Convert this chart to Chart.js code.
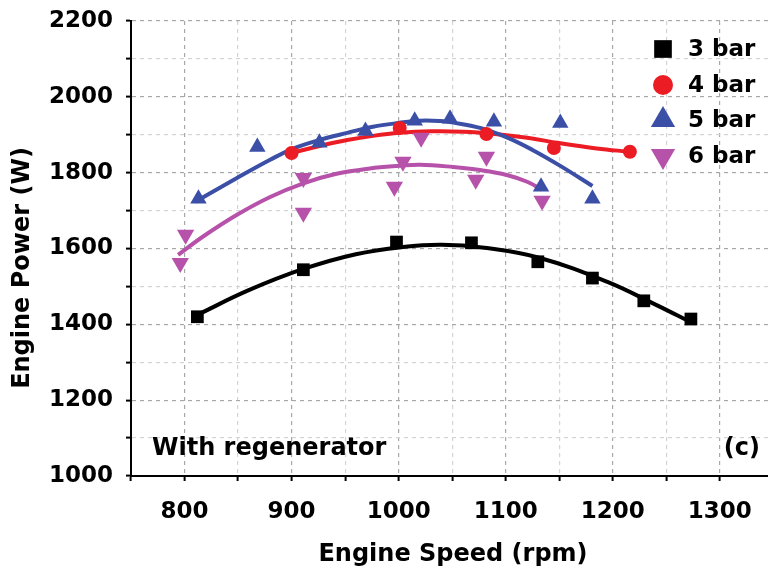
<!DOCTYPE html>
<html>
<head>
<meta charset="utf-8">
<script src="https://cdn.jsdelivr.net/npm/chart.js@4.4.1/dist/chart.umd.min.js"></script>
<style>
  html, body { margin: 0; padding: 0; background: #fff; }
  canvas { display: block; }
</style>
</head>
<body>
<canvas id="powerChart" width="768" height="577"></canvas>
<script>
// measured points (rpm, W)
const speed3 = [812, 911, 998, 1068, 1130, 1181, 1229, 1273];
const power3 = [1420, 1544, 1617, 1615, 1565, 1522, 1462, 1414];
const speed4 = [900, 1001, 1082, 1145, 1216];
const power4 = [1852, 1918, 1902, 1865, 1855];
const speed5 = [813, 868, 926, 969, 1015, 1048, 1089, 1151, 1133, 1181];
const power5 = [1731, 1868, 1879, 1910, 1937, 1942, 1934, 1931, 1763, 1731];
const speed6 = [796, 801, 911, 911, 996, 1004, 1021, 1082, 1072, 1134];
const power6 = [1562, 1636, 1786, 1694, 1763, 1829, 1892, 1842, 1781, 1726];

// fitted curves
const fit3Speed = [812, 860, 911, 960, 1004, 1040, 1080, 1132, 1195, 1240, 1274];
const fit3Power = [1425, 1490, 1546, 1585, 1604, 1610, 1602, 1575, 1512, 1452, 1404];
const fit4Speed = [900, 927, 952, 976, 1001, 1030, 1060, 1090, 1120, 1150, 1185, 1216];
const fit4Power = [1852, 1871, 1886, 1897, 1905, 1909, 1908, 1902, 1892, 1878, 1864, 1855];
const fit5Speed = [810, 849, 880, 901, 927, 952, 976, 1000, 1020, 1039, 1051, 1076, 1101, 1125, 1151, 1181];
const fit5Power = [1723, 1786, 1834, 1863, 1887, 1905, 1921, 1931, 1937, 1936, 1932, 1918, 1893, 1860, 1818, 1765];
const fit6Speed = [794, 817, 849, 880, 911, 942, 973, 1001, 1020, 1051, 1076, 1101, 1120, 1134];
const fit6Power = [1583, 1631, 1689, 1736, 1772, 1797, 1811, 1818, 1821, 1815, 1807, 1794, 1776, 1755];

const seriesLabels = ['3 bar', '4 bar', '5 bar', '6 bar'];
const xTicks = [750, 800, 850, 900, 950, 1000, 1050, 1100, 1150, 1200, 1250, 1300];
const yTicks = [1000, 1100, 1200, 1300, 1400, 1500, 1600, 1700, 1800, 1900, 2000, 2100, 2200];

const colors = ['#000000', '#ec1c24', '#3b4fa6', '#b652a9'];
const FONT = '"DejaVu Sans", sans-serif';

const pts = (xs, ys) => xs.map((x, i) => ({ x: x, y: ys[i] }));

const markerStyles = [
    { pointStyle: 'rect', radius: 9, rotation: 0 },
    { pointStyle: 'circle', radius: 7, rotation: 0 },
    { pointStyle: 'triangle', radius: 9.5, rotation: 0 },
    { pointStyle: 'triangle', radius: 10, rotation: 180 }
];

function markerSet(i, data) {
    return {
        label: seriesLabels[i],
        data: data,
        showLine: false,
        backgroundColor: colors[i],
        borderColor: colors[i],
        borderWidth: 0,
        pointStyle: markerStyles[i].pointStyle,
        pointRadius: markerStyles[i].radius,
        pointRotation: markerStyles[i].rotation,
        order: i
    };
}

function fitSet(i, data, order) {
    return {
        label: seriesLabels[i] + ' fit',
        data: data,
        showLine: true,
        borderColor: colors[i],
        borderWidth: 4,
        pointRadius: 0,
        tension: 0.4,
        fill: false,
        order: order
    };
}

// legend + annotations + axis titles
const decorPlugin = {
    id: 'decor',
    afterDraw(chart) {
        const ctx = chart.ctx;
        ctx.save();
        ctx.fillStyle = '#000';
        ctx.font = 'bold 24px ' + FONT;
        ctx.textBaseline = 'alphabetic';
        ctx.textAlign = 'left';
        ctx.fillText('With regenerator', 152, 455);
        ctx.textAlign = 'right';
        ctx.fillText('(c)', 760, 455);

        ctx.textAlign = 'center';
        ctx.textBaseline = 'middle';
        ctx.fillText('Engine Speed (rpm)', 453, 555);
        ctx.save();
        ctx.translate(23, 268);
        ctx.rotate(-Math.PI / 2);
        ctx.fillText('Engine Power (W)', 0, 0);
        ctx.restore();

        // legend
        const rowsY = [49, 85, 120, 156];
        const legendSize = [12.5, 10, 14, 14];
        ctx.font = 'bold 23px ' + FONT;
        ctx.textAlign = 'left';
        seriesLabels.forEach((lab, i) => {
            ctx.fillStyle = colors[i];
            ctx.strokeStyle = colors[i];
            Chart.helpers.drawPoint(ctx, {
                pointStyle: markerStyles[i].pointStyle,
                rotation: markerStyles[i].rotation,
                radius: legendSize[i],
                borderWidth: 0
            }, 663, rowsY[i]);
            ctx.fillStyle = '#000';
            ctx.fillText(lab, 688, rowsY[i] + 1);
        });
        ctx.restore();
    }
};

function gridColor(major) {
    return (c) => {
        if (!c.tick) return 'rgba(0,0,0,0)';
        return c.tick.value % major === 0 ? '#a8a8a8' : '#d4d4d4';
    };
}

function noPad(s) {
    s.paddingLeft = 0;
    s.paddingRight = 0;
    s.paddingTop = 0;
    s.paddingBottom = 0;
}

new Chart(document.getElementById('powerChart'), {
    type: 'scatter',
    data: {
        datasets: [
            markerSet(0, pts(speed3, power3)),
            markerSet(1, pts(speed4, power4)),
            markerSet(2, pts(speed5, power5)),
            markerSet(3, pts(speed6, power6)),
            fitSet(0, pts(fit3Speed, fit3Power), 10),
            fitSet(2, pts(fit5Speed, fit5Power), 11),
            fitSet(1, pts(fit4Speed, fit4Power), 12),
            fitSet(3, pts(fit6Speed, fit6Power), 13)
        ]
    },
    options: {
        responsive: false,
        animation: false,
        layout: { autoPadding: false, padding: { top: 21, right: 0, left: 0, bottom: 0 } },
        plugins: {
            legend: { display: false },
            tooltip: { enabled: false }
        },
        scales: {
            x: {
                type: 'linear',
                min: 750,
                max: 1345,
                afterBuildTicks: (s) => { s.ticks = xTicks.map(v => ({ value: v })); },
                afterFit: (s) => { s.height = 101; noPad(s); },
                ticks: {
                    autoSkip: false,
                    maxRotation: 0,
                    padding: 17,
                    color: '#000',
                    font: { family: FONT, size: 23, weight: 'bold' },
                    callback: (v) => (v % 100 === 0 ? String(v) : '')
                },
                grid: {
                    color: gridColor(100),
                    lineWidth: 1.2,
                    tickColor: '#000',
                    tickLength: 5,
                    tickWidth: 2
                },
                border: { display: true, color: '#000', width: 2, dash: [4, 4] }
            },
            y: {
                type: 'linear',
                min: 1000,
                max: 2200,
                afterBuildTicks: (s) => { s.ticks = yTicks.map(v => ({ value: v })); },
                afterFit: (s) => { s.width = 131; noPad(s); },
                ticks: {
                    autoSkip: false,
                    padding: 13,
                    color: '#000',
                    font: { family: FONT, size: 23, weight: 'bold' },
                    callback: (v) => (v % 200 === 0 ? String(v) : '')
                },
                grid: {
                    color: gridColor(200),
                    lineWidth: 1.2,
                    tickColor: '#000',
                    tickLength: 5,
                    tickWidth: 2
                },
                border: { display: true, color: '#000', width: 2, dash: [4, 4] }
            }
        }
    },
    plugins: [decorPlugin]
});
</script>
</body>
</html>
